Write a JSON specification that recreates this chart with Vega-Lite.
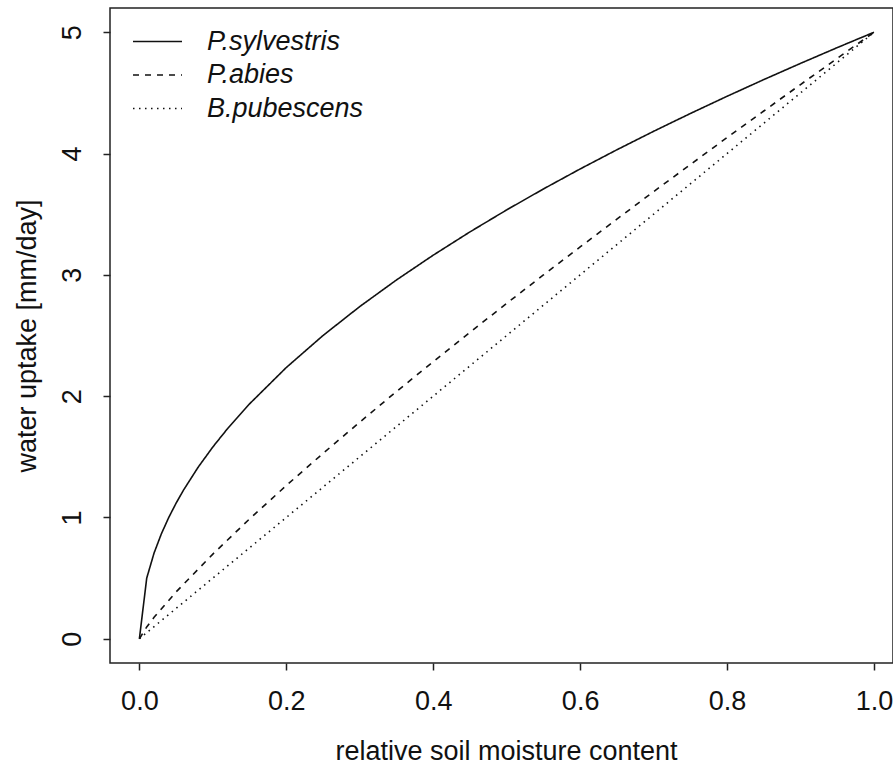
{
  "$schema": "https://vega.github.io/schema/vega-lite/v6.json",
  "width": 783,
  "height": 655,
  "autosize": {"type": "none"},
  "padding": {"left": 110, "top": 8, "right": 0, "bottom": 102},
  "background": "white",
  "config": {
    "view": {"stroke": "#222", "strokeWidth": 1.5},
    "font": "Liberation Sans",
    "axis": {
      "grid": false,
      "domain": false,
      "tickColor": "#222",
      "tickWidth": 1.5,
      "tickSize": 7,
      "labelFont": "Liberation Sans",
      "labelFontSize": 27,
      "labelColor": "#111",
      "titleFont": "Liberation Sans",
      "titleFontSize": 27,
      "titleFontWeight": "normal",
      "titleColor": "#111"
    }
  },
  "data": {
    "values": [
      {"species": "P.sylvestris", "x": 0, "y": 0},
      {"species": "P.sylvestris", "x": 0.01, "y": 0.5},
      {"species": "P.sylvestris", "x": 0.02, "y": 0.7071},
      {"species": "P.sylvestris", "x": 0.03, "y": 0.866},
      {"species": "P.sylvestris", "x": 0.04, "y": 1.0},
      {"species": "P.sylvestris", "x": 0.05, "y": 1.118},
      {"species": "P.sylvestris", "x": 0.06, "y": 1.2247},
      {"species": "P.sylvestris", "x": 0.08, "y": 1.4142},
      {"species": "P.sylvestris", "x": 0.1, "y": 1.5811},
      {"species": "P.sylvestris", "x": 0.12, "y": 1.7321},
      {"species": "P.sylvestris", "x": 0.15, "y": 1.9365},
      {"species": "P.sylvestris", "x": 0.2, "y": 2.2361},
      {"species": "P.sylvestris", "x": 0.25, "y": 2.5},
      {"species": "P.sylvestris", "x": 0.3, "y": 2.7386},
      {"species": "P.sylvestris", "x": 0.35, "y": 2.958},
      {"species": "P.sylvestris", "x": 0.4, "y": 3.1623},
      {"species": "P.sylvestris", "x": 0.45, "y": 3.3541},
      {"species": "P.sylvestris", "x": 0.5, "y": 3.5355},
      {"species": "P.sylvestris", "x": 0.55, "y": 3.7081},
      {"species": "P.sylvestris", "x": 0.6, "y": 3.873},
      {"species": "P.sylvestris", "x": 0.65, "y": 4.0311},
      {"species": "P.sylvestris", "x": 0.7, "y": 4.1833},
      {"species": "P.sylvestris", "x": 0.75, "y": 4.3301},
      {"species": "P.sylvestris", "x": 0.8, "y": 4.4721},
      {"species": "P.sylvestris", "x": 0.85, "y": 4.6098},
      {"species": "P.sylvestris", "x": 0.9, "y": 4.7434},
      {"species": "P.sylvestris", "x": 0.95, "y": 4.8734},
      {"species": "P.sylvestris", "x": 1.0, "y": 5.0},
      {"species": "P.abies", "x": 0, "y": 0},
      {"species": "P.abies", "x": 0.01, "y": 0.0975},
      {"species": "P.abies", "x": 0.02, "y": 0.1764},
      {"species": "P.abies", "x": 0.05, "y": 0.386},
      {"species": "P.abies", "x": 0.1, "y": 0.698},
      {"species": "P.abies", "x": 0.15, "y": 0.988},
      {"species": "P.abies", "x": 0.2, "y": 1.263},
      {"species": "P.abies", "x": 0.25, "y": 1.528},
      {"species": "P.abies", "x": 0.3, "y": 1.786},
      {"species": "P.abies", "x": 0.35, "y": 2.038},
      {"species": "P.abies", "x": 0.4, "y": 2.284},
      {"species": "P.abies", "x": 0.45, "y": 2.526},
      {"species": "P.abies", "x": 0.5, "y": 2.765},
      {"species": "P.abies", "x": 0.55, "y": 2.999},
      {"species": "P.abies", "x": 0.6, "y": 3.23},
      {"species": "P.abies", "x": 0.65, "y": 3.459},
      {"species": "P.abies", "x": 0.7, "y": 3.686},
      {"species": "P.abies", "x": 0.75, "y": 3.909},
      {"species": "P.abies", "x": 0.8, "y": 4.132},
      {"species": "P.abies", "x": 0.85, "y": 4.351},
      {"species": "P.abies", "x": 0.9, "y": 4.569},
      {"species": "P.abies", "x": 0.95, "y": 4.785},
      {"species": "P.abies", "x": 1.0, "y": 5.0},
      {"species": "B.pubescens", "x": 0, "y": 0},
      {"species": "B.pubescens", "x": 0.5, "y": 2.5},
      {"species": "B.pubescens", "x": 1.0, "y": 5.0}
    ]
  },
  "mark": {"type": "line", "color": "#111", "strokeWidth": 1.6, "clip": true},
  "encoding": {
    "x": {
      "field": "x",
      "type": "quantitative",
      "scale": {"domain": [-0.04, 1.0259], "nice": false, "zero": false},
      "axis": {
        "values": [0, 0.2, 0.4, 0.6, 0.8, 1.0],
        "format": ".1f",
        "labelPadding": 18,
        "title": "relative soil moisture content",
        "titleBaseline": "alphabetic",
        "titleY": 96,
        "titleX": 396
      }
    },
    "y": {
      "field": "y",
      "type": "quantitative",
      "scale": {"domain": [-0.2, 5.2], "nice": false, "zero": false},
      "axis": {
        "values": [0, 1, 2, 3, 4, 5],
        "format": "d",
        "labelAngle": 270,
        "labelPadding": 17,
        "title": "water uptake [mm/day]",
        "titlePadding": 17
      }
    },
    "strokeDash": {
      "field": "species",
      "type": "nominal",
      "scale": {
        "domain": ["P.sylvestris", "P.abies", "B.pubescens"],
        "range": [[1, 0], [6, 6], [1.5, 4.5]]
      },
      "legend": {
        "title": null,
        "orient": "none",
        "legendX": 34,
        "legendY": 20,
        "padding": 0,
        "symbolType": "M-4,0H4",
        "symbolSize": 150,
        "symbolStrokeWidth": 1.6,
        "symbolStrokeColor": "#111",
        "labelFont": "Liberation Sans",
        "labelFontSize": 27,
        "labelFontStyle": "italic",
        "labelColor": "#111",
        "labelOffset": 36,
        "rowPadding": 5.5
      }
    }
  }
}
